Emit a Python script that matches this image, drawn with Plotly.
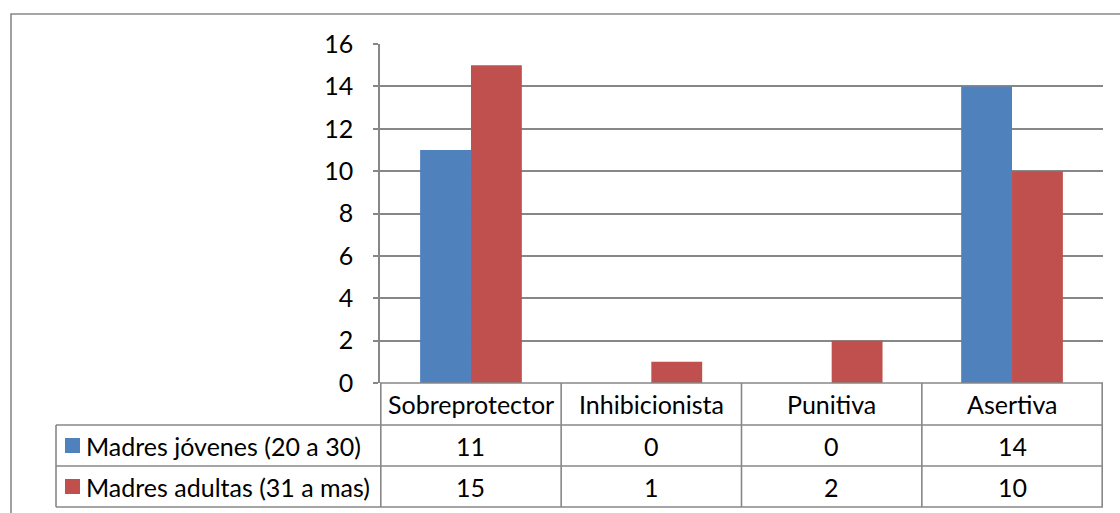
import plotly.graph_objects as go

categories = ["Sobreprotector", "Inhibicionista", "Punitiva", "Asertiva"]
series_names = ["Madres jóvenes (20 a 30)", "Madres adultas (31 a mas)"]
jovenes = [11, 0, 0, 14]
adultas = [15, 1, 2, 10]
series_values = [jovenes, adultas]
colors = ["#4F81BD", "#C0504D"]
y_ticks = [0, 2, 4, 6, 8, 10, 12, 14, 16]

W, H = 1120, 513
FONT = "Lato"
FS = 25
GRID = "#878787"

def px(x):
    return x / W

def py(y):
    return 1 - y / H

plot_left, plot_right = 380, 1103
plot_top, plot_bottom = 44, 383
table_left = 56
row_lines = [383, 425, 466, 507]

fig = go.Figure()
for name, vals, c in zip(series_names, series_values, colors):
    fig.add_trace(go.Bar(x=categories, y=vals, name=name, marker=dict(color=c, line=dict(width=0)),
                         showlegend=False, hoverinfo="skip"))

shapes = []
# outer border
shapes.append(dict(type="rect", xref="paper", yref="paper", x0=px(11), x1=1.02, y0=-0.02, y1=py(14),
                   line=dict(color="#898989", width=1.6), fillcolor="rgba(0,0,0,0)", layer="below"))
# table horizontal lines
shapes.append(dict(type="line", xref="paper", yref="paper", x0=px(plot_left), x1=px(plot_right),
                   y0=py(row_lines[0]), y1=py(row_lines[0]), line=dict(color=GRID, width=1.6)))
for yl in row_lines[1:]:
    shapes.append(dict(type="line", xref="paper", yref="paper", x0=px(table_left), x1=px(plot_right),
                       y0=py(yl), y1=py(yl), line=dict(color=GRID, width=1.6)))
# table vertical lines (category boundaries)
shapes.append(dict(type="line", xref="paper", yref="paper", x0=px(table_left), x1=px(table_left),
                   y0=py(row_lines[1]), y1=py(row_lines[3]), line=dict(color=GRID, width=1.6)))
for i in range(len(categories) + 1):
    shapes.append(dict(type="line", xref="x", yref="paper", x0=i - 0.5, x1=i - 0.5,
                       y0=py(row_lines[0]), y1=py(row_lines[3]), line=dict(color=GRID, width=1.6)))

annotations = []
row_centers = [(row_lines[k] + row_lines[k + 1]) / 2 for k in range(3)]
txt_font = dict(family=FONT, size=FS, color="#000000")
for cat in categories:
    annotations.append(dict(x=cat, xref="x", y=py(row_centers[0]), yref="paper", text=cat,
                            xanchor="center", yanchor="middle", showarrow=False, font=txt_font))
for r, (name, vals, c) in enumerate(zip(series_names, series_values, colors)):
    yc = py(row_centers[r + 1])
    for cat, v in zip(categories, vals):
        annotations.append(dict(x=cat, xref="x", y=yc, yref="paper", text=str(v),
                                xanchor="center", yanchor="middle", showarrow=False, font=txt_font))
    shapes.append(dict(type="rect", xref="paper", yref="paper", x0=px(65), x1=px(80),
                       y0=yc - 7.5 / H, y1=yc + 7.5 / H, fillcolor=c, line=dict(width=0)))
    annotations.append(dict(x=px(84), xref="paper", y=yc, yref="paper", text=name, xanchor="left",
                            yanchor="middle", showarrow=False, font=txt_font))

fig.update_layout(
    width=W, height=H, autosize=False,
    margin=dict(l=0, r=0, t=0, b=0, pad=0, autoexpand=False),
    paper_bgcolor="white", plot_bgcolor="white",
    barmode="group", bargap=0.436, bargroupgap=0,
    shapes=shapes, annotations=annotations,
    xaxis=dict(domain=[px(plot_left), px(plot_right)], showticklabels=False, showgrid=False,
               zeroline=False, showline=False, ticks="", automargin=False),
    yaxis=dict(domain=[py(plot_bottom), py(plot_top)], range=[0, 16], tickvals=y_ticks,
               showgrid=True, gridcolor=GRID, gridwidth=1.6, zeroline=False, automargin=False,
               showline=True, linecolor=GRID, linewidth=1.6, ticks="outside", ticklen=5,
               tickcolor=GRID, tickwidth=1.6, ticklabelstandoff=15,
               tickfont=txt_font),
    font=dict(family=FONT, size=FS),
)

fig.write_html("out.html", config={"responsive": False, "displayModeBar": False},
               post_script="document.body.style.margin='0';document.body.style.overflow='hidden';")
